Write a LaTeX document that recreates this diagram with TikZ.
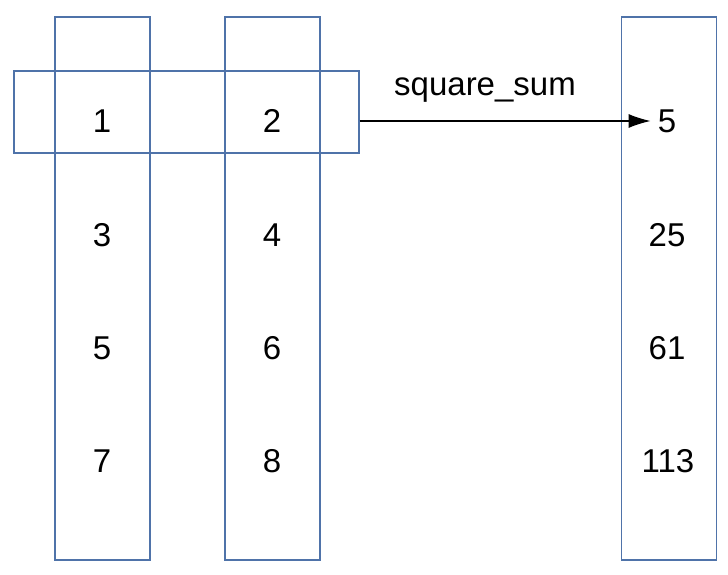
\documentclass[tikz,border=0pt]{standalone}
\usepackage{fontspec}
\setmainfont{Liberation Sans}
\usepackage{xcolor}
\usepackage{tikz}
\usetikzlibrary{
    arrows.meta,
    positioning
}
\definecolor{colblue}{HTML}{4F73A9}
\tikzset{
    % Tall column box
    colbox/.style={
        rectangle,
        draw=colblue,
        line width=1.2pt,
        minimum width=95pt,
        minimum height=543pt,
        inner sep=0pt
    },
    % Row box across first two columns
    rowbox/.style={
        rectangle,
        draw=colblue,
        line width=1.2pt,
        minimum width=345pt,
        minimum height=82pt,
        inner sep=0pt
    },
    % Number entry
    numnode/.style={
        font=\fontsize{33}{40}\selectfont,
        inner sep=0pt
    },
    % Arrow style
    maparrow/.style={
        -{Latex[length=22pt,width=14pt]},
        line width=1.2pt,
        color=black
    }
}
\begin{document}
\begin{tikzpicture}[x=1pt, y=-1pt]

    \useasboundingbox (0,0) rectangle (728,575);

    % Columns
    \node[colbox] (cola) at (102.5,288.5) {};
    \node[colbox] (colb) at (272.5,288.5) {};
    \node[colbox] (colc) at (669,288.5) {};

    % Selected row
    \node[rowbox] (row) at (186.5,112) {};

    % First column
    \node[numnode] (a1) at (102,121) {1};
    \node[numnode] (a2) at (102,235) {3};
    \node[numnode] (a3) at (102,348) {5};
    \node[numnode] (a4) at (102,461) {7};

    % Second column
    \node[numnode] (b1) at (272,121) {2};
    \node[numnode] (b2) at (272,235) {4};
    \node[numnode] (b3) at (272,348) {6};
    \node[numnode] (b4) at (272,461) {8};

    % Result column
    \node[numnode] (c1) at (667,121) {5};
    \node[numnode] (c2) at (667,235) {25};
    \node[numnode] (c3) at (667,348) {61};
    \node[numnode] (c4) at (668,461) {113};

    % Mapping arrow
    \draw[maparrow, shorten >=7pt] (row.east |- c1) -- (c1.west);
    \node[numnode] (fn) at (485,90) {square\_sum};

\end{tikzpicture}
\end{document}
